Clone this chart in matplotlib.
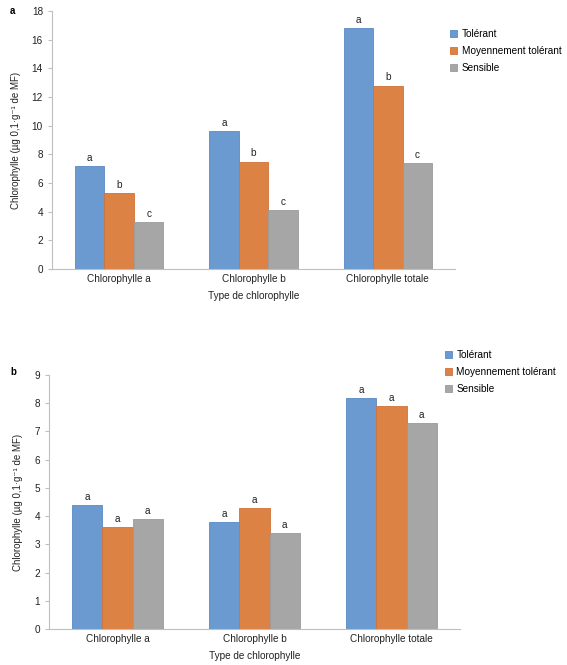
import matplotlib.pyplot as plt
import numpy as np

plt.rcParams['font.family'] = ['Liberation Sans', 'DejaVu Sans']

categories = ["Chlorophylle a", "Chlorophylle b", "Chlorophylle totale"]
series_names = ["Tolérant", "Moyennement tolérant", "Sensible"]
colors = ["#6A9AD0", "#DC8244", "#A6A6A6"]
edges = ["#5A8AC4", "#D07338", "#9A9A9A"]

# panel a
a_tolerant = [7.2, 9.6, 16.8]
a_moyen = [5.3, 7.5, 12.8]
a_sensible = [3.3, 4.1, 7.4]
a_letters = [["a", "a", "a"], ["b", "b", "b"], ["c", "c", "c"]]

# panel b
b_tolerant = [4.4, 3.8, 8.2]
b_moyen = [3.6, 4.3, 7.9]
b_sensible = [3.9, 3.4, 7.3]
b_letters = [["a", "a", "a"], ["a", "a", "a"], ["a", "a", "a"]]

W, H = 567, 665
fig = plt.figure(figsize=(W / 100, H / 100), dpi=100)


def panel(rect, data, letters, ymax, ystep, tag, tag_y, leg_xy):
    l, r, t, b = rect
    ax = fig.add_axes([l / W, 1 - b / H, (r - l) / W, (b - t) / H])
    x = np.arange(len(categories))
    w = 0.22
    for i, vals in enumerate(data):
        pos = x + (i - 1) * w
        ax.bar(pos, vals, w, color=colors[i], edgecolor=edges[i],
               linewidth=0.6, label=series_names[i])
        for p, v, s in zip(pos, vals, letters[i]):
            ax.text(p, v + ymax * 0.012, s, ha="center", va="bottom",
                    fontsize=7.2, color="#222222")
    ax.set_xlim(-0.5, 2.5)
    ax.set_ylim(0, ymax)
    ax.set_yticks(np.arange(0, ymax + 0.01, ystep))
    ax.set_xticks(x)
    ax.set_xticklabels(categories)
    for s in ["top", "right"]:
        ax.spines[s].set_visible(False)
    ax.spines["left"].set_color("#BFBFBF")
    ax.spines["bottom"].set_color("#BFBFBF")
    ax.tick_params(axis="y", labelsize=7.2, colors="#BFBFBF", labelcolor="#222222",
                   length=3, width=0.8)
    ax.tick_params(axis="x", labelsize=7.2, labelcolor="#222222", length=0)
    ax.set_xlabel("Type de chlorophylle", fontsize=7.2, color="#222222", labelpad=5)
    ax.set_ylabel("Chlorophylle (µg 0,1·g⁻¹ de MF)", fontsize=7, color="#222222",
                  labelpad=8)
    fig.text(10 / W, 1 - tag_y / H, tag, fontsize=7, fontweight="bold",
             va="center")
    ax.legend(loc="upper left", bbox_to_anchor=(leg_xy[0] / W, 1 - leg_xy[1] / H),
              bbox_transform=fig.transFigure, frameon=False, fontsize=7.2,
              handlelength=0.7, handleheight=0.7, labelspacing=0.7,
              handletextpad=0.45, borderaxespad=0)
    return ax


panel((52, 455, 11, 269), [a_tolerant, a_moyen, a_sensible], a_letters,
      18, 2, "a", 11, (446, 25))
panel((49, 460, 375, 629), [b_tolerant, b_moyen, b_sensible], b_letters,
      9, 1, "b", 372, (441, 346))

fig.savefig("out.png", dpi=100)
